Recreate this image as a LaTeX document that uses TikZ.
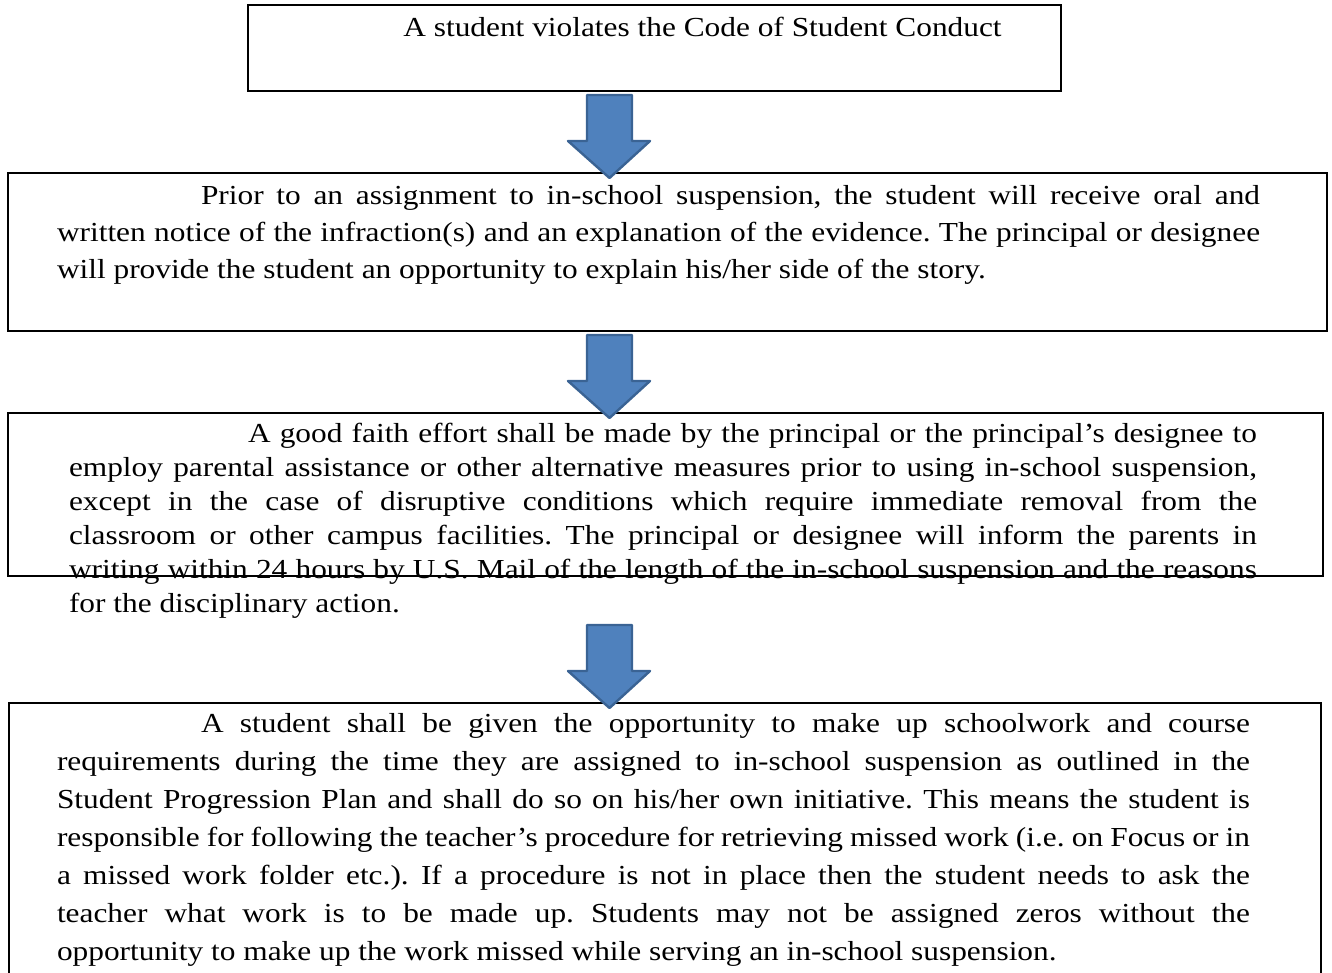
\documentclass[tikz,border=0pt]{standalone}
\usepackage{fontspec}
\setmainfont{Liberation Serif}[FakeStretch=1.14]
\definecolor{arrowfill}{HTML}{4F81BD}
\definecolor{arrowline}{HTML}{3A6394}
\hbadness=10000
\hfuzz=30pt
\begin{document}
\begin{tikzpicture}[x=1pt,y=-1pt,
  box/.style={draw=black, line width=1.6pt, fill=none, inner sep=0pt, rectangle},
  para/.style={anchor=base west, inner sep=0pt, outer sep=0pt},
  barrow/.style={fill=arrowfill, draw=arrowline, line width=2.4pt, line join=round}]
\useasboundingbox (0,0) rectangle (1332,973);
\frenchspacing
% boxes
\node[box, minimum width=813pt, minimum height=86pt] (b1) at (654.5,48) {};
\node[box, minimum width=1319pt, minimum height=158pt] (b2) at (667.5,252) {};
\node[box, minimum width=1315pt, minimum height=163pt] (b3) at (665.5,494.5) {};
\node[box, minimum width=1312pt, minimum height=287pt] (b4) at (665,846.5) {};
% texts
\node[anchor=base, inner sep=0pt] (t1) at (702.5,37) {\fontsize{27.5}{37}\selectfont A student violates the Code of Student Conduct};
\node[para] (t2) at (57,205) {\parbox[t]{1203pt}{\fontsize{27.5}{37}\selectfont\frenchspacing\noindent\hspace*{144pt}Prior to an assignment to in-school suspension, the student will receive oral and\linebreak written notice of the infraction(s) and an explanation of the evidence. The principal or designee\linebreak will provide the student an opportunity to explain his/her side of the story.}};
\node[para] (t3) at (69,442) {\parbox[t]{1188pt}{\fontsize{27.5}{34}\selectfont\frenchspacing\noindent\hspace*{179pt}A good faith effort shall be made by the principal or the principal’s designee to\linebreak employ parental assistance or other alternative measures prior to using in-school suspension,\linebreak except in the case of disruptive conditions which require immediate removal from the\linebreak classroom or other campus facilities. The principal or designee will inform the parents in\linebreak writing within 24 hours by U.S. Mail of the length of the in-school suspension and the reasons\linebreak for the disciplinary action.}};
\node[para] (t4) at (57,732) {\parbox[t]{1193pt}{\fontsize{27.5}{38}\selectfont\frenchspacing\noindent\hspace*{144pt}A student shall be given the opportunity to make up schoolwork and course\linebreak requirements during the time they are assigned to in-school suspension as outlined in the\linebreak Student Progression Plan and shall do so on his/her own initiative. This means the student is\linebreak responsible for following the teacher’s procedure for retrieving missed work (i.e. on Focus or in\linebreak a missed work folder etc.). If a procedure is not in place then the student needs to ask the\linebreak teacher what work is to be made up. Students may not be assigned zeros without the\linebreak opportunity to make up the work missed while serving an in-school suspension.}};
% block arrows
\foreach \y/\n in {95/a1,335/a2,625/a3}{
  \draw[barrow] (587,\y) -- (632,\y) -- (632,\y+46) -- (650,\y+46) -- (609.5,\y+83) -- (568,\y+46) -- (587,\y+46) -- cycle;
}
\end{tikzpicture}
\end{document}
